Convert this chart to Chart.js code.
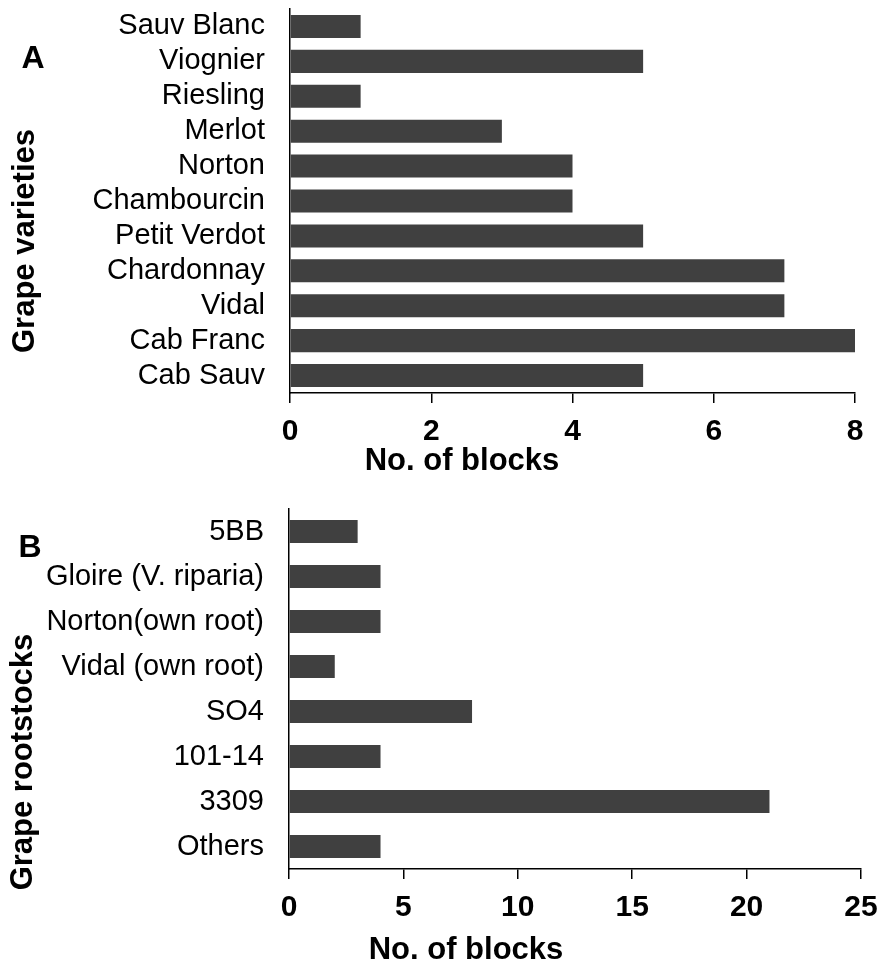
<!DOCTYPE html>
<html>
<head>
<meta charset="utf-8">
<script src="https://cdn.jsdelivr.net/npm/chart.js@4.4.1/dist/chart.umd.min.js"></script>
<style>
  html, body { margin: 0; padding: 0; background: #fff; }
  canvas { display: block; }
</style>
</head>
<body>
<canvas id="chartA" width="881" height="480"></canvas>
<canvas id="chartB" width="881" height="485"></canvas>
<script>
const varieties = ['Sauv Blanc', 'Viognier', 'Riesling', 'Merlot', 'Norton', 'Chambourcin',
                   'Petit Verdot', 'Chardonnay', 'Vidal', 'Cab Franc', 'Cab Sauv'];
const varietyBlocks = [1, 5, 1, 3, 4, 4, 5, 7, 7, 8, 5];
const varietyTicks = [0, 2, 4, 6, 8];

const rootstocks = ['5BB', 'Gloire (V. riparia)', 'Norton(own root)', 'Vidal (own root)',
                    'SO4', '101-14', '3309', 'Others'];
const rootstockBlocks = [3, 4, 4, 2, 8, 4, 21, 4];
const rootstockTicks = [0, 5, 10, 15, 20, 25];

const FONT = "'Liberation Sans', Arial, sans-serif";
const BAR = '#404040';

// axis titles + panel letter, placed relative to the canvas like the original figure
const panelText = {
  id: 'panelText',
  afterDraw(chart, args, opts) {
    const c = chart.ctx;
    c.save();
    c.fillStyle = '#000';
    c.textAlign = 'center';
    c.textBaseline = 'middle';
    c.font = 'bold 32px ' + FONT;
    c.fillText(opts.letter, opts.letterX, opts.letterY);
    c.font = 'bold 31px ' + FONT;
    c.fillText(opts.xTitle, opts.xTitleX, opts.xTitleY);
    c.translate(opts.yTitleX, opts.yTitleY);
    c.rotate(-Math.PI / 2);
    c.fillText(opts.yTitle, 0, 0);
    c.restore();
  }
};

function makeChart(id, labels, values, ticks, opt) {
  return new Chart(document.getElementById(id), {
    type: 'bar',
    data: {
      labels: labels,
      datasets: [{
        data: values,
        backgroundColor: BAR,
        borderWidth: 0,
        barPercentage: opt.barPct,
        categoryPercentage: 1
      }]
    },
    plugins: [panelText],
    options: {
      indexAxis: 'y',
      responsive: false,
      animation: false,
      layout: { padding: { top: opt.top, right: opt.right, bottom: 0, left: 0 } },
      plugins: {
        legend: { display: false },
        tooltip: { enabled: false },
        panelText: opt.text
      },
      scales: {
        x: {
          min: ticks[0],
          max: ticks[ticks.length - 1],
          afterBuildTicks: s => { s.ticks = ticks.map(v => ({ value: v })); },
          afterFit: s => {
            s.height = opt.xHeight;
            s.paddingLeft = 0;
            s.paddingRight = 0;
          },
          border: { display: true, color: '#000', width: 1.5 },
          grid: { drawOnChartArea: false, drawTicks: true, tickLength: 10, color: '#000', lineWidth: 1.5 },
          ticks: { color: '#000', padding: 11, maxRotation: 0, font: { family: FONT, size: 30, weight: 'bold' } }
        },
        y: {
          afterFit: s => {
            s.width = opt.left;
            s.paddingTop = 0;
            s.paddingBottom = 0;
          },
          border: { display: true, color: '#000', width: 1.5 },
          grid: { display: false, drawTicks: false },
          ticks: { color: '#000', padding: 25, autoSkip: false, font: { family: FONT, size: 29 } }
        }
      }
    }
  });
}

makeChart('chartA', varieties, varietyBlocks, varietyTicks, {
  barPct: 0.66, top: 9, right: 26, left: 290, xHeight: 87,
  text: {
    letter: 'A', letterX: 33, letterY: 59,
    xTitle: 'No. of blocks', xTitleX: 462, xTitleY: 461,
    yTitle: 'Grape varieties', yTitleX: 25, yTitleY: 241
  }
});

makeChart('chartB', rootstocks, rootstockBlocks, rootstockTicks, {
  barPct: 0.51, top: 29, right: 20, left: 289, xHeight: 96,
  text: {
    letter: 'B', letterX: 30, letterY: 68,
    xTitle: 'No. of blocks', xTitleX: 466, xTitleY: 470,
    yTitle: 'Grape rootstocks', yTitleX: 23, yTitleY: 282
  }
});
</script>
</body>
</html>
